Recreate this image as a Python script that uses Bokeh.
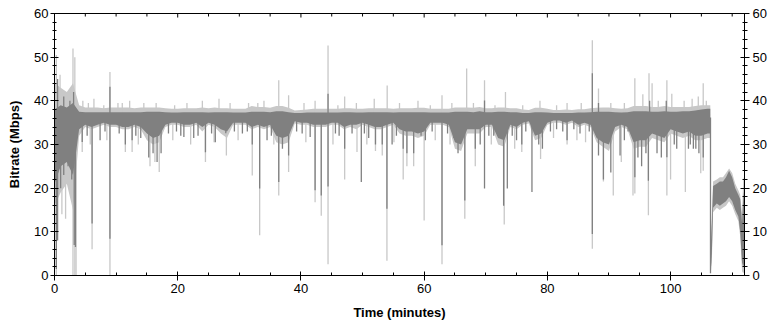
from bokeh.plotting import figure
from bokeh.models import LinearAxis, Range1d, FixedTicker
from bokeh.embed import file_html
from bokeh.resources import INLINE

# ---------------- data ----------------
band_t = list(range(0, 107)) + [106.45, 106.5, 106.7, 106.9, 107.5, 108, 108.5, 109,
                                109.5, 110, 110.5, 111, 111.3, 111.6, 111.8, 112]

avg_lo = [21, 25, 26, 23, 33.5, 34.5, 34, 34.5, 35, 34.5,
          34.5, 34, 34, 34.5, 34, 32.5, 31.5, 32, 34.5, 35,
          35, 34.5, 34.5, 35, 34, 35, 34.5, 33.5, 33, 35,
          35, 35, 34, 34.5, 34, 34.5, 32, 31.5, 32, 35.3,
          35, 35, 34.5, 34.5, 34.5, 35, 35, 34, 34.5, 34.5,
          35, 34.5, 34, 34, 34.5, 35, 33.5, 33, 33, 32.5,
          33, 35, 35, 35, 34.5, 30.5, 30, 33.5, 33.5, 33.5,
          34.5, 34.5, 31.5, 31, 34.5, 34, 35, 35.3, 32, 32.5,
          35, 35.5, 35.5, 35, 35.5, 34.5, 35, 34.5, 31.5, 30.5,
          30, 34, 34.5, 34, 30.5, 31, 31, 32.5, 32, 31.5,
          33.5, 33, 32.5, 33, 32, 32, 32.5,
          32.5, 0.5, 5, 15.5, 16.5, 16, 16.5, 17, 18, 17, 15, 13.5, 10, 3, 2, 3]

avg_hi = [38, 39, 38.5, 39.5, 37.5, 37.4, 37.4, 37.4, 37.4, 37.4,
          37.4, 37.4, 37.4, 37.4, 37.4, 37.5, 37.5, 37.5, 37.4, 37.3,
          37.3, 37.4, 37.4, 37.4, 37.4, 37.3, 37.4, 37.4, 37.4, 37.3,
          37.3, 37.3, 37.5, 37.5, 37.5, 37.4, 37.6, 37.6, 37.4, 37.2,
          37.2, 37.3, 37.3, 37.3, 37.3, 37.3, 37.3, 37.4, 37.4, 37.3,
          37.3, 37.4, 37.4, 37.4, 37.4, 37.3, 37.4, 37.4, 37.4, 37.4,
          37.4, 37.3, 37.3, 37.3, 37.3, 37.5, 37.5, 37.5, 37.4, 37.6,
          37.4, 37.4, 37.5, 37.5, 37.4, 37.4, 37.2, 37.2, 37.4, 37.4,
          37.3, 37.2, 37.2, 37.2, 37.2, 37.3, 37.3, 37.4, 37.5, 37.5,
          37.5, 37.4, 37.3, 37.4, 37.6, 37.6, 37.6, 37.5, 37.5, 37.6,
          37.5, 37.5, 37.6, 37.6, 37.8, 38, 38.2,
          38.2, 6, 12, 20.5, 21, 21.5, 21.5, 22.5, 24, 22.5, 20, 18.5, 17.5, 12, 18, 20]

peak_lo = [16, 19, 21, 15, 32, 34, 33.5, 34, 34.5, 34,
           34, 33.5, 33.5, 34, 33.5, 31, 30, 30.5, 34, 34.5,
           34.5, 34, 34, 34.5, 33, 34.5, 34, 32.5, 31.5, 34.5,
           34.5, 34.5, 33.5, 34, 33.5, 34, 30.5, 30, 30.5, 34.8,
           34.5, 34.5, 34, 34, 34, 34.5, 34.5, 33.5, 34, 33.5,
           34.5, 34, 33.5, 33.5, 34, 34.5, 32.5, 32, 32, 31.5,
           32, 34.5, 34.5, 34.5, 34, 29, 28.5, 32.5, 32.5, 32.5,
           34, 34, 30, 29.5, 34, 33.5, 34.5, 34.8, 31, 31.5,
           34.5, 35, 35, 34.5, 35, 34, 34.5, 34, 30.5, 29.5,
           28.5, 33, 34, 33.5, 29, 29.5, 29.5, 31.5, 31, 30.5,
           32.5, 32, 31.5, 32, 31, 31, 31.5,
           31.5, 0.3, 3, 14.5, 15.5, 15, 15.5, 16, 17, 16, 14, 12.5, 9, 1, 0.5, 1]

peak_hi = [44, 43, 42, 44, 39, 38.5, 38.5, 38.5, 38.3, 38.5,
           38.5, 38.5, 38.5, 38.3, 38.5, 38.5, 38.5, 38.5, 38.3, 38.2,
           38.2, 38.3, 38.3, 38.3, 38.5, 38.3, 38.5, 38.3, 38.3, 38.2,
           38.2, 38.2, 38.8, 38.6, 38.6, 38.4, 38.8, 38.8, 38.4, 37.8,
           37.9, 38, 38.2, 38.2, 38.2, 38.2, 38.2, 38.3, 38.3, 38.2,
           38.2, 38.3, 38.3, 38.3, 38.3, 38.2, 38.3, 38.3, 38.3, 38.4,
           38.4, 38.2, 38.2, 38.2, 38.2, 38.5, 38.5, 38.5, 38.4, 38.6,
           38.3, 38.3, 38.5, 38.5, 38.3, 38.3, 38, 37.9, 38.4, 38.4,
           38.2, 37.9, 37.9, 38, 37.9, 38.1, 38.1, 38.3, 38.4, 38.5,
           38.5, 38.3, 38.2, 38.3, 38.8, 38.8, 38.8, 38.6, 38.6, 38.8,
           38.6, 38.6, 38.6, 38.6, 38.8, 39, 39,
           39, 8, 14, 21.5, 22, 22.5, 22.5, 23.5, 24.5, 23.5, 21, 19.5, 18.5, 14, 22, 23]

# average-bitrate (dark) excursions from the ~36 Mbps plateau
avg_dip_t = [0.3, 0.5, 1.0, 1.5, 2.2, 2.8, 3.2, 3.4, 4.5, 5.3, 6.1, 7.4, 8.2, 9.0, 10.5,
             11.5, 12.6, 13.2, 14.0, 15.3, 16.0, 16.65, 17.3, 18.5, 19.8, 20.5, 21.0,
             22.6, 23.3, 24.5, 25.5, 26.1, 27.8, 29.2, 30.5, 31.3, 32.1, 33.3, 34.5,
             35.2, 36.4, 37.0, 38.0, 39.3, 40.2, 41.5, 42.3, 43.3, 44.4, 45.6, 46.2,
             47.1, 48.3, 49.8, 50.3, 51.0, 52.1, 53.2, 53.96, 54.8, 55.5, 56.6, 57.2,
             58.3, 59.5, 60.2, 61.3, 62.9, 63.8, 64.8, 65.5, 66.6, 68.3, 69.1, 69.8,
             70.5, 71.3, 72.9, 73.5, 74.3, 75.0, 75.85, 76.5, 77.5, 78.6, 79.2, 80.5,
             81.5, 82.5, 83.2, 84.3, 85.3, 86.8, 87.3, 88.3, 89.1, 90.3, 91.8, 92.5,
             93.1, 94.2, 94.7, 95.3, 96.0, 96.4, 97.8, 98.5, 99.4, 100.6, 101.0, 102.9,
             103.2, 103.7, 104.1, 104.6, 105.3, 106.48]
avg_dip_v = [1.5, 8, 20, 23, 25, 22, 7, 6.5, 30.6, 32, 11.9, 31, 33, 8.4, 32.5,
             30, 31, 32, 31.5, 27, 28, 26, 28, 32.5, 33, 32, 31.7,
             31.5, 32, 28.2, 32.5, 30.5, 32.6, 33, 32.5, 33, 30, 19.9, 31,
             32, 21.4, 29, 27.5, 33, 32.5, 31.7, 19.5, 18.3, 20.4, 32.5, 32,
             29, 32.5, 21.4, 32.5, 31.5, 30, 30, 15.3, 30, 32, 29, 28,
             28, 32, 31, 33, 6.9, 32.5, 31.5, 28, 17.2, 29, 30, 19.9,
             32, 32, 16.0, 19.9, 32, 31, 30, 33, 19.1, 30, 29, 33,
             33.5, 33, 31, 33.5, 32.5, 33, 9.5, 27.5, 22, 23.6, 27.5, 31,
             33, 22.5, 27, 25, 28, 21.7, 28, 27, 27.1, 30, 29, 29,
             30, 29, 29, 28, 27, 0.5]
avg_spike_t = [0.5, 1.5, 2.5, 3.1, 9.0, 44.4, 69.8, 87.3, 88.3, 96.6, 99.3]
avg_spike_v = [45, 41, 40, 42, 43.2, 41.6, 40.1, 46.3, 39.5, 40, 40]

# peak-bitrate (light) excursions from the plateau
peak_dip_t = [0.3, 1.2, 1.8, 2.5, 3.0, 3.3, 3.5, 4.5, 5.8, 6.1, 8.5, 9.0, 11.5, 12.6,
              13.6, 15.5, 16.3, 17.0, 19.2, 22.1, 24.5, 25.9, 27.9, 29.8, 32.1, 33.3,
              35.6, 36.4, 38.0, 40.8, 42.3, 43.3, 44.4, 45.2, 47.1, 49.1, 50.7, 52.1,
              53.2, 53.96, 55.1, 56.6, 57.2, 58.3, 60.0, 61.8, 62.9, 64.2, 66.6, 68.3,
              70.9, 73.0, 74.7, 75.85, 78.9, 81.0, 83.2, 84.8, 86.2, 87.3, 89.1, 90.7,
              92.0, 93.9, 94.2, 96.4, 99.4, 100.0, 102.4, 104.9, 105.3]
peak_dip_v = [0, 14, 13, 19, 0, 0, 0, 28.3, 30, 6, 31, 0, 28.3, 28.3,
              30, 25, 26, 23.7, 31, 30, 26, 30.5, 27.5, 31, 22.9, 9.2,
              30, 18.3, 23.7, 30.5, 16.8, 13.7, 2.6, 30, 22, 28.3, 30, 28.5,
              27.5, 3.4, 30.5, 22, 25, 25, 12.6, 31, 2.6, 30, 13, 25,
              30, 11.7, 29, 28.3, 26.7, 31.5, 30, 31, 30.5, 6.1, 21.5, 18.3,
              26, 18.3, 18.8, 13.8, 18.3, 22, 19.1, 23.4, 24]
peak_spike_t = [0.3, 0.9, 1.3, 2.0, 2.7, 3.0, 3.3, 4.6, 5.5, 6.4, 8.0, 9.0, 10.3, 11.0,
                12.2, 14.5, 16.5, 19.5, 21.5, 24.0, 26.7, 28.5, 31.5, 33.0, 34.0, 36.4,
                38.0, 40.5, 42.3, 44.4, 46.0, 47.1, 49.0, 51.9, 54.0, 56.0, 59.0, 61.0,
                62.9, 64.5, 66.9, 68.0, 69.8, 71.5, 73.2, 76.0, 78.8, 81.5, 83.2, 85.5,
                87.3, 88.3, 90.3, 92.5, 94.2, 95.5, 96.5, 97.0, 98.0, 99.4, 100.2,
                102.2, 103.5, 104.5, 105.3, 105.8]
peak_spike_v = [50.5, 46, 42, 41, 43, 52, 50, 40, 39.5, 40.5, 39, 46.6, 39.5, 39.5,
                40, 39.5, 39.5, 39, 39.5, 40, 40.5, 39.5, 39.5, 39.5, 40, 44.7,
                41.3, 39.5, 40, 52.7, 39, 41, 39.5, 40.5, 43.5, 39.5, 40, 39,
                41.3, 39.5, 47.4, 39.5, 44.7, 39, 42, 39, 40, 39, 39.5, 39.5,
                53.9, 42.8, 39.5, 39.5, 45.2, 41.5, 46.3, 44, 40, 44.7, 41.6,
                40, 40.5, 41, 44, 40]

x_major = [0, 20, 40, 60, 80, 100]
x_minor = [5, 10, 15, 25, 30, 35, 45, 50, 55, 65, 70, 75, 85, 90, 95, 105, 110]
y_major = [0, 10, 20, 30, 40, 50, 60]
y_minor = [2, 4, 6, 8, 12, 14, 16, 18, 22, 24, 26, 28, 32, 34, 36, 38,
           42, 44, 46, 48, 52, 54, 56, 58]

DARK = "#808080"
LIGHT = "#C8C8C8"
FONT = "Liberation Sans"
BASE = 36.2
Y_TOP = 60
TICK_MAJ = 0.92   # top-edge tick lengths (data units, ~4px / ~3px)
TICK_MIN = 0.69

p = figure(width=776, height=324, output_backend="svg", toolbar_location=None,
           x_range=Range1d(0, 112), y_range=Range1d(0, Y_TOP),
           min_border_left=54, min_border_right=32, min_border_top=13, min_border_bottom=49)
p.background_fill_color = "white"
p.border_fill_color = "white"
p.outline_line_color = "black"
p.xgrid.visible = False
p.ygrid.visible = False

# peak (light) series
p.varea(x=band_t, y1=peak_lo, y2=peak_hi, fill_color=LIGHT)
p.segment(x0=peak_dip_t, y0=[BASE] * len(peak_dip_t), x1=peak_dip_t, y1=peak_dip_v,
          line_color=LIGHT, line_width=1.3)
p.segment(x0=peak_spike_t, y0=[BASE] * len(peak_spike_t), x1=peak_spike_t, y1=peak_spike_v,
          line_color=LIGHT, line_width=1.3)
# average (dark) series
p.varea(x=band_t, y1=avg_lo, y2=avg_hi, fill_color=DARK)
p.segment(x0=avg_dip_t, y0=[BASE] * len(avg_dip_t), x1=avg_dip_t, y1=avg_dip_v,
          line_color=DARK, line_width=1.3)
p.segment(x0=avg_spike_t, y0=[BASE] * len(avg_spike_t), x1=avg_spike_t, y1=avg_spike_v,
          line_color=DARK, line_width=1.3)

# inward ticks along the top edge of the frame
p.segment(x0=x_major, y0=[Y_TOP] * len(x_major), x1=x_major,
          y1=[Y_TOP - TICK_MAJ] * len(x_major), line_color="black", line_width=1)
p.segment(x0=x_minor, y0=[Y_TOP] * len(x_minor), x1=x_minor,
          y1=[Y_TOP - TICK_MIN] * len(x_minor), line_color="black", line_width=1)


def style(ax, mti, mto, nti, nto, standoff):
    ax.axis_line_color = "black"
    ax.major_tick_line_color = "black"
    ax.minor_tick_line_color = "black"
    ax.major_tick_in = mti
    ax.major_tick_out = mto
    ax.minor_tick_in = nti
    ax.minor_tick_out = nto
    ax.major_label_standoff = standoff
    ax.major_label_text_font = FONT
    ax.major_label_text_font_size = "13px"
    ax.major_label_text_color = "black"
    ax.axis_label_text_font = FONT
    ax.axis_label_text_font_size = "13px"
    ax.axis_label_text_font_style = "bold"
    ax.axis_label_text_color = "black"


xt = FixedTicker(ticks=x_major, minor_ticks=x_minor)
yt = FixedTicker(ticks=y_major, minor_ticks=y_minor)

p.xaxis.ticker = xt
p.yaxis.ticker = yt
style(p.xaxis[0], 4, 5, 3, 0, 3)
style(p.yaxis[0], 4, 4, 2, 2, 2)
p.xaxis.axis_label = "Time (minutes)"
p.yaxis.axis_label = "Bitrate (Mbps)"
p.xaxis.axis_label_standoff = 9
p.yaxis.axis_label_standoff = 9

right = LinearAxis(ticker=yt)
style(right, 4, 5, 2, 3, 3)
p.add_layout(right, "right")

open("out.html", "w").write(file_html(p, INLINE))
